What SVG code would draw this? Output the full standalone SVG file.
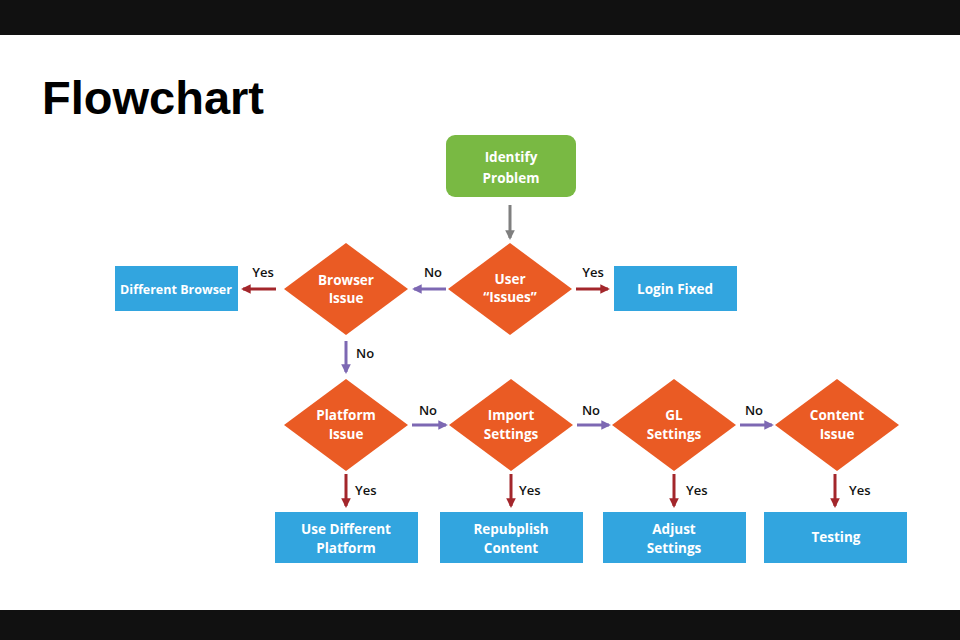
<svg xmlns="http://www.w3.org/2000/svg" width="960" height="640" viewBox="0 0 960 640">
<defs>
<style>
.lbl{font-family:"Open Sans","Liberation Sans",sans-serif;font-weight:700;font-size:13.5px;fill:#fff;text-anchor:middle}
.el{font-family:"Open Sans","Liberation Sans",sans-serif;font-weight:600;font-size:13px;fill:#111}
.dia{fill:#ea5b24}
.box{fill:#32a5df}
.red{stroke:#a3262b;stroke-width:3;fill:none}
.pur{stroke:#7d68b3;stroke-width:3;fill:none}
.gry{stroke:#7f7f7f;stroke-width:3;fill:none}
</style>
<marker id="mr" viewBox="0 0 10 10" refX="8" refY="5" markerWidth="3.2" markerHeight="3.2" orient="auto"><path d="M0,0 L10,5 L0,10 z" fill="#a3262b"/></marker>
<marker id="mp" viewBox="0 0 10 10" refX="8" refY="5" markerWidth="3.2" markerHeight="3.2" orient="auto"><path d="M0,0 L10,5 L0,10 z" fill="#7d68b3"/></marker>
<marker id="mg" viewBox="0 0 10 10" refX="8" refY="5" markerWidth="3.2" markerHeight="3.2" orient="auto"><path d="M0,0 L10,5 L0,10 z" fill="#7f7f7f"/></marker>
</defs>
<rect x="0" y="0" width="960" height="640" fill="#fff"/>
<rect x="0" y="0" width="960" height="35" fill="#111"/>
<rect x="0" y="610" width="960" height="30" fill="#111"/>
<text x="42" y="114" font-family="'Liberation Sans',Arial,sans-serif" font-weight="700" font-size="47" fill="#000">Flowchart</text>

<g id="connectors">
<line class="gry" x1="510" y1="205" x2="510" y2="238" marker-end="url(#mg)"/>
<line class="red" x1="576" y1="289" x2="608" y2="289" marker-end="url(#mr)"/>
<line class="pur" x1="446" y1="289" x2="414" y2="289" marker-end="url(#mp)"/>
<line class="red" x1="276" y1="289" x2="243" y2="289" marker-end="url(#mr)"/>
<line class="pur" x1="346" y1="341" x2="346" y2="372" marker-end="url(#mp)"/>
<line class="pur" x1="412" y1="425" x2="446" y2="425" marker-end="url(#mp)"/>
<line class="pur" x1="577" y1="425" x2="609" y2="425" marker-end="url(#mp)"/>
<line class="pur" x1="740" y1="425" x2="772" y2="425" marker-end="url(#mp)"/>
<line class="red" x1="346" y1="474" x2="346" y2="506" marker-end="url(#mr)"/>
<line class="red" x1="511" y1="474" x2="511" y2="506" marker-end="url(#mr)"/>
<line class="red" x1="674" y1="474" x2="674" y2="506" marker-end="url(#mr)"/>
<line class="red" x1="835" y1="474" x2="835" y2="506" marker-end="url(#mr)"/>
<text class="el" x="593" y="277" text-anchor="middle">Yes</text>
<text class="el" x="433" y="277" text-anchor="middle">No</text>
<text class="el" x="263" y="277" text-anchor="middle">Yes</text>
<text class="el" x="356" y="358">No</text>
<text class="el" x="428" y="415" text-anchor="middle">No</text>
<text class="el" x="591" y="415" text-anchor="middle">No</text>
<text class="el" x="754" y="415" text-anchor="middle">No</text>
<text class="el" x="355" y="495">Yes</text>
<text class="el" x="519" y="495">Yes</text>
<text class="el" x="686" y="495">Yes</text>
<text class="el" x="849" y="495">Yes</text>
</g>

<g id="identify"><rect x="446" y="135" width="130" height="62" rx="9" fill="#79b943"/>
<text class="lbl" x="511" y="162">Identify</text><text class="lbl" x="511" y="183">Problem</text></g>
<g id="user"><polygon class="dia" points="510,243 572,289 510,335 448,289"/>
<text class="lbl" x="510" y="284">User</text><text class="lbl" x="510" y="302">“Issues”</text></g>
<g id="browser"><polygon class="dia" points="346,243 408,289 346,335 284,289"/>
<text class="lbl" x="346" y="285">Browser</text><text class="lbl" x="346" y="303">Issue</text></g>
<g id="login"><rect class="box" x="614" y="266" width="123" height="45"/>
<text class="lbl" x="675" y="294">Login Fixed</text></g>
<g id="diffbrowser"><rect class="box" x="115" y="266" width="123" height="45"/>
<text class="lbl" x="176" y="294" style="font-size:12.5px">Different Browser</text></g>

<g id="platform"><polygon class="dia" points="346,379 408,425 346,471 284,425"/>
<text class="lbl" x="346" y="420">Platform</text><text class="lbl" x="346" y="439">Issue</text></g>
<g id="import"><polygon class="dia" points="511,379 573,425 511,471 449,425"/>
<text class="lbl" x="511" y="420">Import</text><text class="lbl" x="511" y="439">Settings</text></g>
<g id="gl"><polygon class="dia" points="674,379 736,425 674,471 612,425"/>
<text class="lbl" x="674" y="420">GL</text><text class="lbl" x="674" y="439">Settings</text></g>
<g id="content"><polygon class="dia" points="837,379 899,425 837,471 775,425"/>
<text class="lbl" x="837" y="420">Content</text><text class="lbl" x="837" y="439">Issue</text></g>

<g id="useplatform"><rect class="box" x="275" y="512" width="143" height="51"/>
<text class="lbl" x="346" y="534">Use Different</text><text class="lbl" x="346" y="553">Platform</text></g>
<g id="republish"><rect class="box" x="440" y="512" width="143" height="51"/>
<text class="lbl" x="511" y="534">Repubplish</text><text class="lbl" x="511" y="553">Content</text></g>
<g id="adjust"><rect class="box" x="603" y="512" width="143" height="51"/>
<text class="lbl" x="674" y="534">Adjust</text><text class="lbl" x="674" y="553">Settings</text></g>
<g id="testing"><rect class="box" x="764" y="512" width="143" height="51"/>
<text class="lbl" x="836" y="542">Testing</text></g>
</svg>
